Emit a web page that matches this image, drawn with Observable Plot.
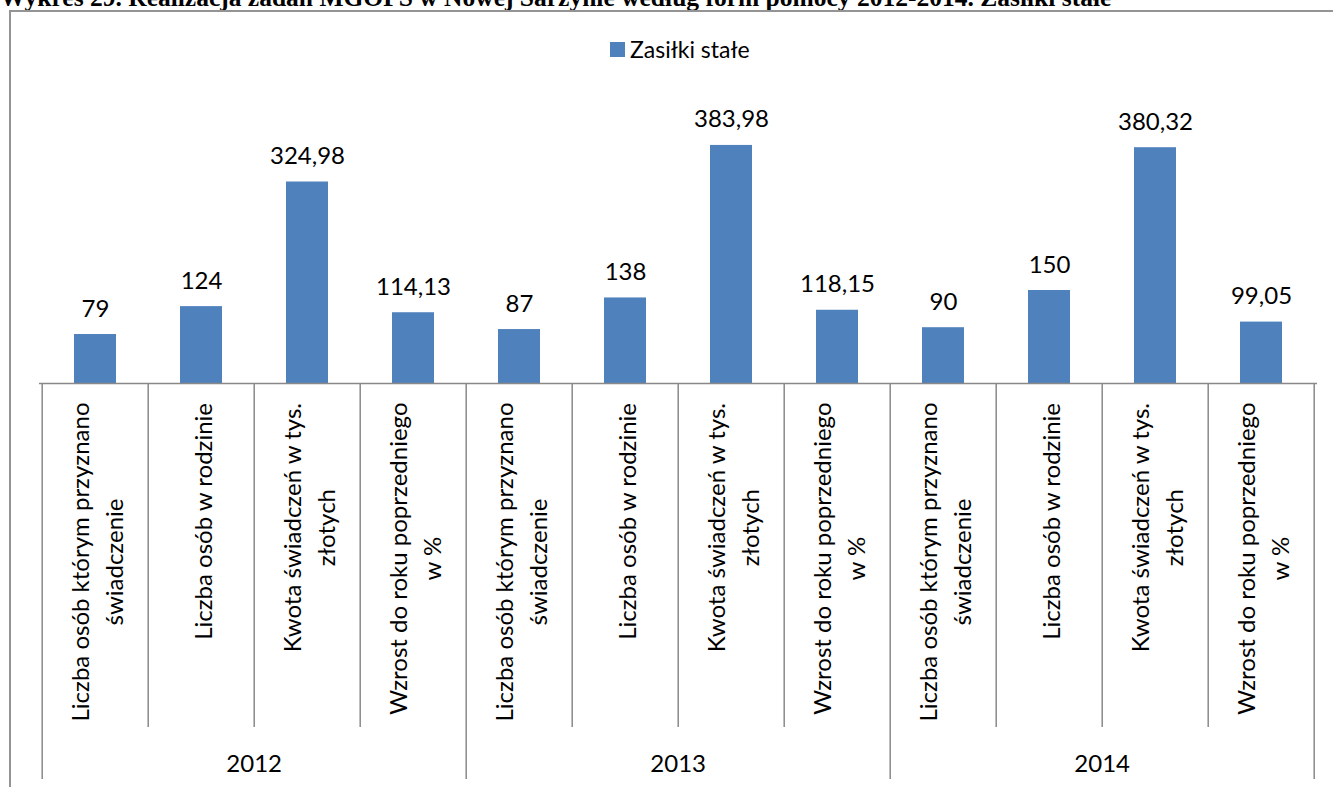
<!DOCTYPE html>
<html><head><meta charset="utf-8">
<script src="https://cdn.jsdelivr.net/npm/d3@7"></script>
<script src="https://cdn.jsdelivr.net/npm/@observablehq/plot@0.6"></script>
<style>
html,body{margin:0;padding:0;background:#fff}
body{width:1333px;height:787px;overflow:hidden;position:relative;font-family:Lato}
#title{position:absolute;left:0;top:-17px;font:bold 25.5px "Liberation Serif";white-space:nowrap;color:#000}
#frame{position:absolute;left:9px;top:10px;width:1400px;height:900px;border-left:2px solid #949494;border-top:2px solid #949494}
#chart{position:absolute;left:0;top:0}
#legend{position:absolute;left:610px;top:38px;font:23px Lato;line-height:23px;display:flex;align-items:center;color:#000}
#legend .sw{display:inline-block;width:15px;height:15px;background:#4F81BD;margin-right:5px}
</style></head><body>
<div id="title">Wykres 29. Realizacja zadań MGOPS w Nowej Sarzynie według form pomocy 2012-2014. Zasiłki stałe</div>
<div id="frame"></div>
<div id="chart"></div>
<div id="legend"><span class="sw"></span><span>Zasiłki stałe</span></div>
<script>
const seriesName = "Zasiłki stałe";
const years = ["2012", "2013", "2014"];
const categories = [
  "Liczba osób którym przyznano\nświadczenie",
  "Liczba osób w rodzinie",
  "Kwota świadczeń w tys.\nzłotych",
  "Wzrost do roku poprzedniego\nw %"
];
const values2012 = [79, 124, 324.98, 114.13];
const values2013 = [87, 138, 383.98, 118.15];
const values2014 = [90, 150, 380.32, 99.05];
const seriesByYear = [values2012, values2013, values2014];

const data = years.flatMap((year, yi) => categories.map((cat, ci) => ({
  year, cat, ci, yi, key: `${year}|${ci}`, value: seriesByYear[yi][ci]
})));
const keys = data.map(d => d.key);
const fmt = v => Number.isInteger(v) ? String(v) : v.toFixed(2).replace(".", ",");

const FONT = "Lato";
const FS = 24;
const GRID = "#898989";
const BAR = "#4F81BD";

const ctx = document.createElement("canvas").getContext("2d");
ctx.font = `${FS}px ${FONT}`;
const labelGap = 19;

const catMarks = categories.map((c, ci) => {
  const w = d3.max(c.split("\n"), l => ctx.measureText(l).width);
  return Plot.text(data.filter(d => d.ci === ci), {
    x: "key", text: d => d.cat, frameAnchor: "bottom", rotate: -90,
    textAnchor: "middle", lineAnchor: "middle", lineHeight: 1.4,
    dy: labelGap + w / 2, fontSize: FS, fontFamily: FONT, fill: "#000"
  });
});

function axisFrame(index, scales, values, dims) {
  const x = scales.x;
  const step = x.step();
  const off = step * x.paddingInner() / 2;
  const y0 = scales.y(0);
  const g = d3.create("svg:g");
  const bounds = keys.map(k => x(k) - off);
  bounds.push(x(keys[keys.length - 1]) - off + step);
  bounds.forEach((bx, i) => {
    const isGroup = i % categories.length === 0;
    g.append("line")
      .attr("x1", bx).attr("x2", bx)
      .attr("y1", y0).attr("y2", y0 + (isGroup ? 396 : 344))
      .attr("stroke", GRID).attr("stroke-width", 1.5);
  });
  years.forEach((yr, yi) => {
    const a = bounds[yi * categories.length];
    const b = bounds[(yi + 1) * categories.length];
    g.append("text")
      .attr("x", (a + b) / 2).attr("y", y0 + 389)
      .attr("text-anchor", "middle")
      .attr("font-family", FONT).attr("font-size", FS)
      .attr("fill", "#000")
      .text(yr);
  });
  return g.node();
}

const chart = Plot.plot({
  width: 1333,
  height: 787,
  marginLeft: 39,
  marginRight: 16,
  marginTop: 104,
  marginBottom: 404,
  style: {background: "transparent", fontFamily: FONT},
  x: {domain: keys, paddingInner: 0.6, paddingOuter: 0.3, axis: null},
  y: {domain: [0, 450], axis: null},
  marks: [
    Plot.barY(data, {x: "key", y: "value", fill: BAR}),
    Plot.ruleY([0], {stroke: GRID, strokeWidth: 1.5}),
    axisFrame,
    Plot.text(data, {x: "key", y: "value", text: d => fmt(d.value), dy: -18, lineAnchor: "bottom", fontSize: FS, fontFamily: FONT, fill: "#000"}),
    ...catMarks
  ]
});
document.getElementById("chart").appendChild(chart);
</script>
</body></html>
